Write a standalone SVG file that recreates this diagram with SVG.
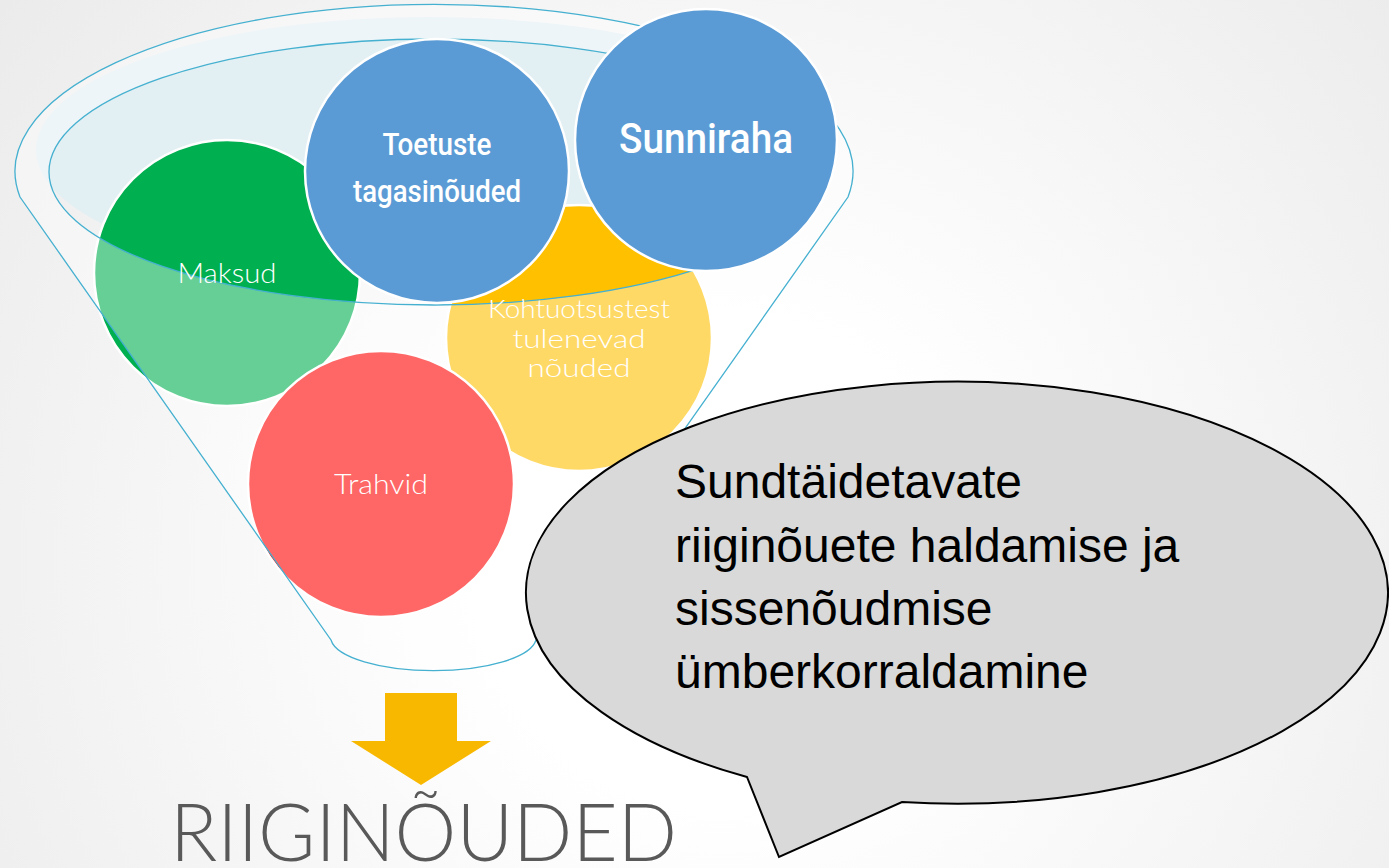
<svg xmlns="http://www.w3.org/2000/svg" width="1389" height="868" viewBox="0 0 1389 868">
<defs>
  <radialGradient id="bg" cx="720" cy="560" r="980" gradientUnits="userSpaceOnUse">
    <stop offset="0.25" stop-color="#ffffff"/>
    <stop offset="1" stop-color="#e9e9e9"/>
  </radialGradient>
  <style>
    .funnel-line { fill: none; stroke: #45b0d0; stroke-width: 1.3; }
    .circle { stroke: #ffffff; stroke-width: 2.5; }
    .lbl-thin { font-family: Lato, "Open Sans", "Liberation Sans", sans-serif; font-weight: 300; fill: #ffffff; text-anchor: middle; }
    .lbl-cond { font-family: Roboto, "Liberation Sans", sans-serif; font-weight: 500; fill: #ffffff; text-anchor: middle; }
    .bubble-text { font-family: "Liberation Sans", Arial, sans-serif; font-size: 48px; fill: #000000; }
  </style>
</defs>
<rect x="0" y="0" width="1389" height="868" fill="url(#bg)"/>

<!-- liquid surface -->
<ellipse id="surface" cx="430" cy="150" rx="394" ry="133" fill="#e2eff3"/>

<g id="maksud">
  <circle class="circle" cx="227" cy="273" r="133" fill="#00b050"/>
</g>
<g id="kohtuotsustest">
  <circle class="circle" cx="579" cy="338" r="133" fill="#ffc000"/>
</g>
<g id="trahvid">
  <circle class="circle" cx="381" cy="484" r="133" fill="#ff0000"/>
</g>

<!-- funnel body -->
<g id="funnel">
  <path d="M 20,197 A 419 167 0 1 1 848,197 L 536,640 A 103 34 0 0 1 331,640 Z M 49,172 A 385 133 0 1 0 819,172 A 385 133 0 1 0 49,172 Z" fill="#ffffff" fill-opacity="0.4" fill-rule="evenodd"/>
  <path class="funnel-line" d="M 20,197 A 419 167 0 1 1 848,197 L 536,640 A 103 34 0 0 1 331,640 Z"/>
  <ellipse class="funnel-line" cx="434" cy="172" rx="385" ry="133"/>
</g>

<g id="maksud-label">
  <text class="lbl-thin" x="227" y="283" font-size="27" textLength="99" lengthAdjust="spacingAndGlyphs">Maksud</text>
</g>
<g id="kohtuotsustest-label">
  <text class="lbl-thin" x="579" y="318" font-size="26" textLength="182" lengthAdjust="spacingAndGlyphs">Kohtuotsustest</text>
  <text class="lbl-thin" x="579" y="348" font-size="26" textLength="133" lengthAdjust="spacingAndGlyphs">tulenevad</text>
  <text class="lbl-thin" x="579" y="377" font-size="26" textLength="103" lengthAdjust="spacingAndGlyphs">nõuded</text>
</g>
<g id="trahvid-label">
  <text class="lbl-thin" x="381" y="494" font-size="27" textLength="94" lengthAdjust="spacingAndGlyphs">Trahvid</text>
</g>

<g id="toetuste">
  <circle class="circle" cx="437" cy="171" r="132" fill="#5b9bd5"/>
  <text class="lbl-cond" x="437" y="155" font-size="31" textLength="109" lengthAdjust="spacingAndGlyphs">Toetuste</text>
  <text class="lbl-cond" x="437" y="202" font-size="31" textLength="168" lengthAdjust="spacingAndGlyphs">tagasinõuded</text>
</g>
<g id="sunniraha">
  <circle class="circle" cx="706" cy="140" r="131" fill="#5b9bd5"/>
  <text class="lbl-cond" x="706" y="153" font-size="42" textLength="174" lengthAdjust="spacingAndGlyphs">Sunniraha</text>
</g>

<g id="connectors">
  <polygon id="arrow" points="385,693 457,693 457,741 491,741 421,785 351,741 385,741" fill="#f9b800"/>
</g>

<g id="result">
  <text x="170" y="861" font-family="Lato, 'Open Sans', 'Liberation Sans', sans-serif" font-weight="300" font-size="80" fill="#595959" textLength="507" lengthAdjust="spacingAndGlyphs">RIIGINÕUDED</text>
</g>

<g id="bubble">
  <path d="M 747,777 A 431 211 0 1 1 902,802 L 779,857 Z" fill="#d9d9d9" stroke="#000000" stroke-width="2"/>
  <text class="bubble-text" x="675" y="498">Sundtäidetavate</text>
  <text class="bubble-text" x="675" y="562">riiginõuete haldamise ja</text>
  <text class="bubble-text" x="675" y="625">sissenõudmise</text>
  <text class="bubble-text" x="675" y="688">ümberkorraldamine</text>
</g>
</svg>
